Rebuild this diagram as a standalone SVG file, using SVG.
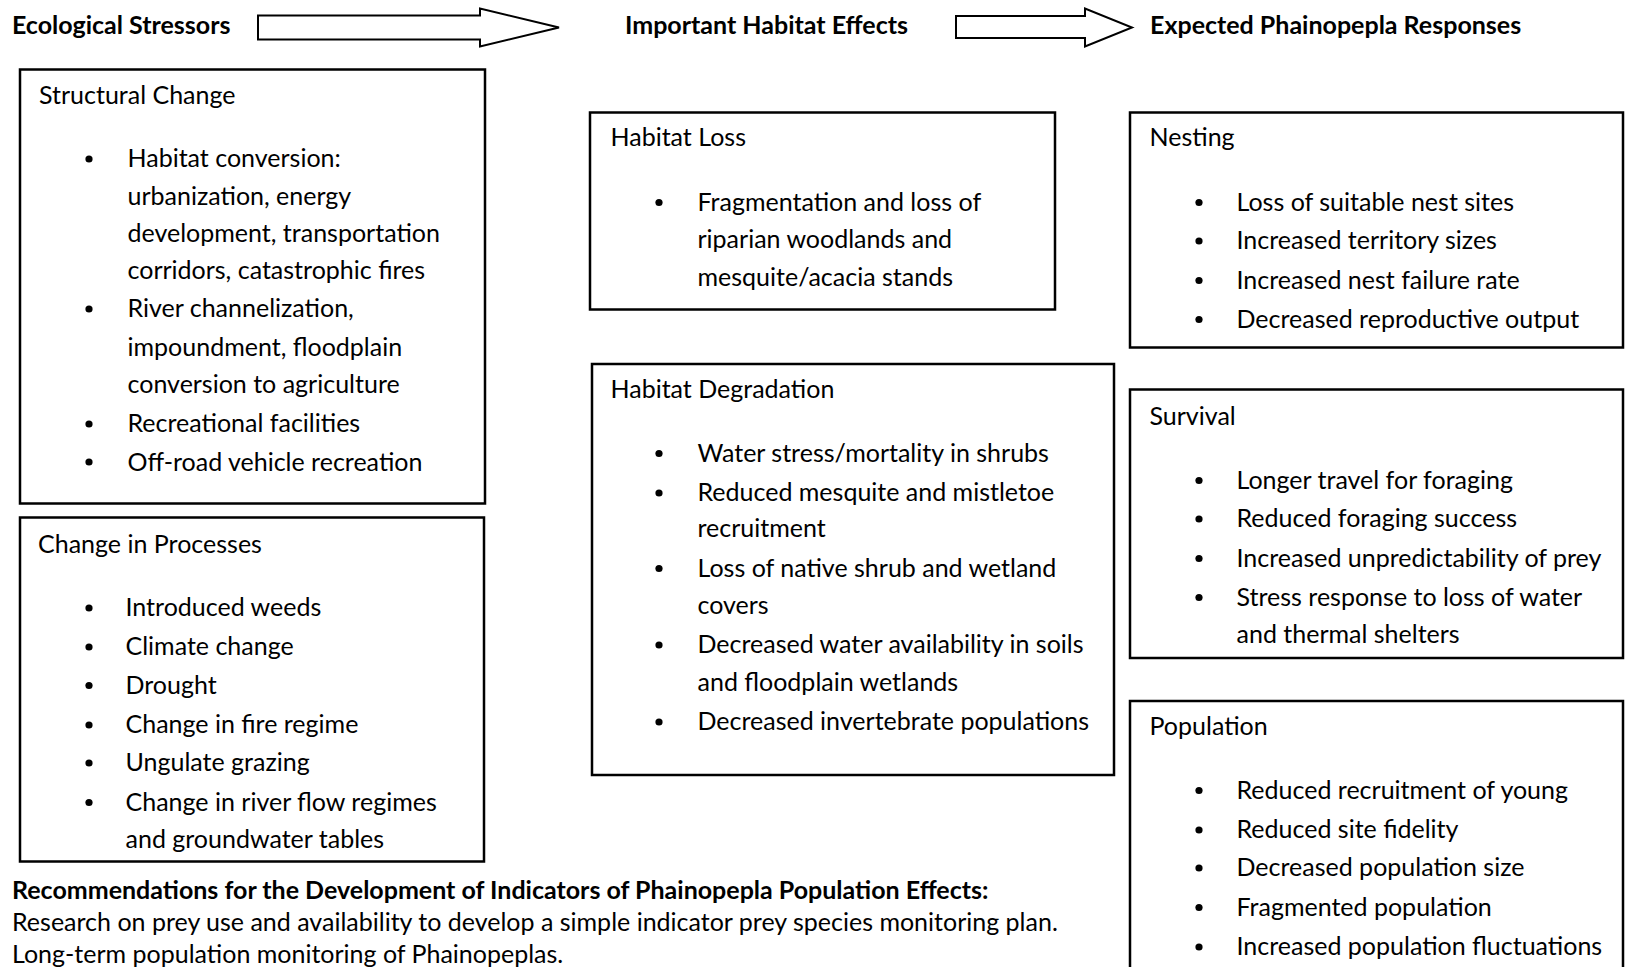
<svg xmlns="http://www.w3.org/2000/svg" width="1625" height="967" viewBox="0 0 1625 967">
  <style>
    .box { fill: #fff; stroke: #000; stroke-width: 2.5; }
    .arrow { fill: #fff; stroke: #000; stroke-width: 2; stroke-linejoin: miter; }
    .t { font-family: Lato, "Open Sans", "Liberation Sans", sans-serif; font-size: 25px; fill: #000; }
    .hd { font-family: Lato, "Open Sans", "Liberation Sans", sans-serif; font-size: 25px; font-weight: bold; fill: #000; }
    .dot { fill: #000; }
  </style>
  <defs>
    <circle id="bullet" r="3.6" class="dot"/>
  </defs>
  <rect width="1625" height="967" fill="#fff"/>

  <!-- column headings -->
  <g id="headings">
    <text class="hd" x="12" y="34">Ecological Stressors</text>
    <text class="hd" x="625" y="34">Important Habitat Effects</text>
    <text class="hd" x="1150" y="34">Expected Phainopepla Responses</text>
  </g>

  <!-- block arrows between the column headings -->
  <g id="connectors">
    <polygon class="arrow" points="258,15.5 480,15.5 480,8.5 559,27.5 480,46.5 480,39.5 258,39.5"/>
    <polygon class="arrow" points="956,16 1085,16 1085,8.5 1132,27.5 1085,46.5 1085,38 956,38"/>
  </g>

  <!-- Ecological stressors -->
  <g id="structural-change">
    <rect class="box" x="20" y="69.5" width="465" height="434"/>
    <text class="t" x="39" y="104">Structural Change</text>
    <use href="#bullet" x="89" y="159"/>
    <use href="#bullet" x="89" y="309"/>
    <use href="#bullet" x="89" y="424"/>
    <use href="#bullet" x="89" y="462"/>
    <text class="t" x="127.5" y="167">Habitat conversion:</text>
    <text class="t" x="127.5" y="204.5">urbanization, energy</text>
    <text class="t" x="127.5" y="242">development, transportation</text>
    <text class="t" x="127.5" y="279">corridors, catastrophic fires</text>
    <text class="t" x="127.5" y="317">River channelization,</text>
    <text class="t" x="127.5" y="355.5">impoundment, floodplain</text>
    <text class="t" x="127.5" y="393">conversion to agriculture</text>
    <text class="t" x="127.5" y="432">Recreational facilities</text>
    <text class="t" x="127.5" y="470.5">Off-road vehicle recreation</text>
  </g>

  <g id="change-in-processes">
    <rect class="box" x="20" y="517.5" width="464" height="344"/>
    <text class="t" x="38" y="552.5">Change in Processes</text>
    <use href="#bullet" x="89" y="608"/>
    <use href="#bullet" x="89" y="647"/>
    <use href="#bullet" x="89" y="685.5"/>
    <use href="#bullet" x="89" y="725"/>
    <use href="#bullet" x="89" y="763"/>
    <use href="#bullet" x="89" y="802.5"/>
    <text class="t" x="125.5" y="616">Introduced weeds</text>
    <text class="t" x="125.5" y="655">Climate change</text>
    <text class="t" x="125.5" y="693.5">Drought</text>
    <text class="t" x="125.5" y="733">Change in fire regime</text>
    <text class="t" x="125.5" y="771">Ungulate grazing</text>
    <text class="t" x="125.5" y="810.5">Change in river flow regimes</text>
    <text class="t" x="125.5" y="848">and groundwater tables</text>
  </g>

  <!-- Habitat effects -->
  <g id="habitat-loss">
    <rect class="box" x="590" y="112.5" width="465" height="197"/>
    <text class="t" x="610.5" y="146">Habitat Loss</text>
    <use href="#bullet" x="659" y="202.5"/>
    <text class="t" x="697.5" y="210.5">Fragmentation and loss of</text>
    <text class="t" x="697.5" y="248">riparian woodlands and</text>
    <text class="t" x="697.5" y="286">mesquite/acacia stands</text>
  </g>

  <g id="habitat-degradation">
    <rect class="box" x="592" y="364" width="522" height="411"/>
    <text class="t" x="610.5" y="398">Habitat Degradation</text>
    <use href="#bullet" x="659" y="453.5"/>
    <use href="#bullet" x="659" y="493"/>
    <use href="#bullet" x="659" y="568.5"/>
    <use href="#bullet" x="659" y="645"/>
    <use href="#bullet" x="659" y="722"/>
    <text class="t" x="697.5" y="461.5">Water stress/mortality in shrubs</text>
    <text class="t" x="697.5" y="501">Reduced mesquite and mistletoe</text>
    <text class="t" x="697.5" y="537">recruitment</text>
    <text class="t" x="697.5" y="576.5">Loss of native shrub and wetland</text>
    <text class="t" x="697.5" y="614">covers</text>
    <text class="t" x="697.5" y="653">Decreased water availability in soils</text>
    <text class="t" x="697.5" y="690.5">and floodplain wetlands</text>
    <text class="t" x="697.5" y="730">Decreased invertebrate populations</text>
  </g>

  <!-- Expected responses -->
  <g id="nesting">
    <rect class="box" x="1130" y="112.5" width="493" height="235"/>
    <text class="t" x="1149.5" y="146">Nesting</text>
    <use href="#bullet" x="1199" y="202.5"/>
    <use href="#bullet" x="1199" y="241"/>
    <use href="#bullet" x="1199" y="280.5"/>
    <use href="#bullet" x="1199" y="319.5"/>
    <text class="t" x="1236.5" y="210.5">Loss of suitable nest sites</text>
    <text class="t" x="1236.5" y="249">Increased territory sizes</text>
    <text class="t" x="1236.5" y="288.5">Increased nest failure rate</text>
    <text class="t" x="1236.5" y="327.5">Decreased reproductive output</text>
  </g>

  <g id="survival">
    <rect class="box" x="1130" y="389.5" width="493" height="268.5"/>
    <text class="t" x="1149.5" y="425">Survival</text>
    <use href="#bullet" x="1199" y="480.5"/>
    <use href="#bullet" x="1199" y="519"/>
    <use href="#bullet" x="1199" y="558.5"/>
    <use href="#bullet" x="1199" y="597.5"/>
    <text class="t" x="1236.5" y="488.5">Longer travel for foraging</text>
    <text class="t" x="1236.5" y="527">Reduced foraging success</text>
    <text class="t" x="1236.5" y="566.5">Increased unpredictability of prey</text>
    <text class="t" x="1236.5" y="605.5">Stress response to loss of water</text>
    <text class="t" x="1236.5" y="643">and thermal shelters</text>
  </g>

  <g id="population">
    <rect class="box" x="1130" y="701" width="493" height="280"/>
    <text class="t" x="1149.5" y="735">Population</text>
    <use href="#bullet" x="1199" y="790.5"/>
    <use href="#bullet" x="1199" y="830"/>
    <use href="#bullet" x="1199" y="868"/>
    <use href="#bullet" x="1199" y="907.5"/>
    <use href="#bullet" x="1199" y="947"/>
    <text class="t" x="1236.5" y="798.5">Reduced recruitment of young</text>
    <text class="t" x="1236.5" y="837.5">Reduced site fidelity</text>
    <text class="t" x="1236.5" y="876">Decreased population size</text>
    <text class="t" x="1236.5" y="915.5">Fragmented population</text>
    <text class="t" x="1236.5" y="955">Increased population fluctuations</text>
  </g>

  <!-- Recommendations -->
  <g id="recommendations">
    <text class="hd" x="12" y="899">Recommendations for the Development of Indicators of Phainopepla Population Effects:</text>
    <text class="t" x="12" y="931">Research on prey use and availability to develop a simple indicator prey species monitoring plan.</text>
    <text class="t" x="12" y="963">Long-term population monitoring of Phainopeplas.</text>
  </g>
</svg>
